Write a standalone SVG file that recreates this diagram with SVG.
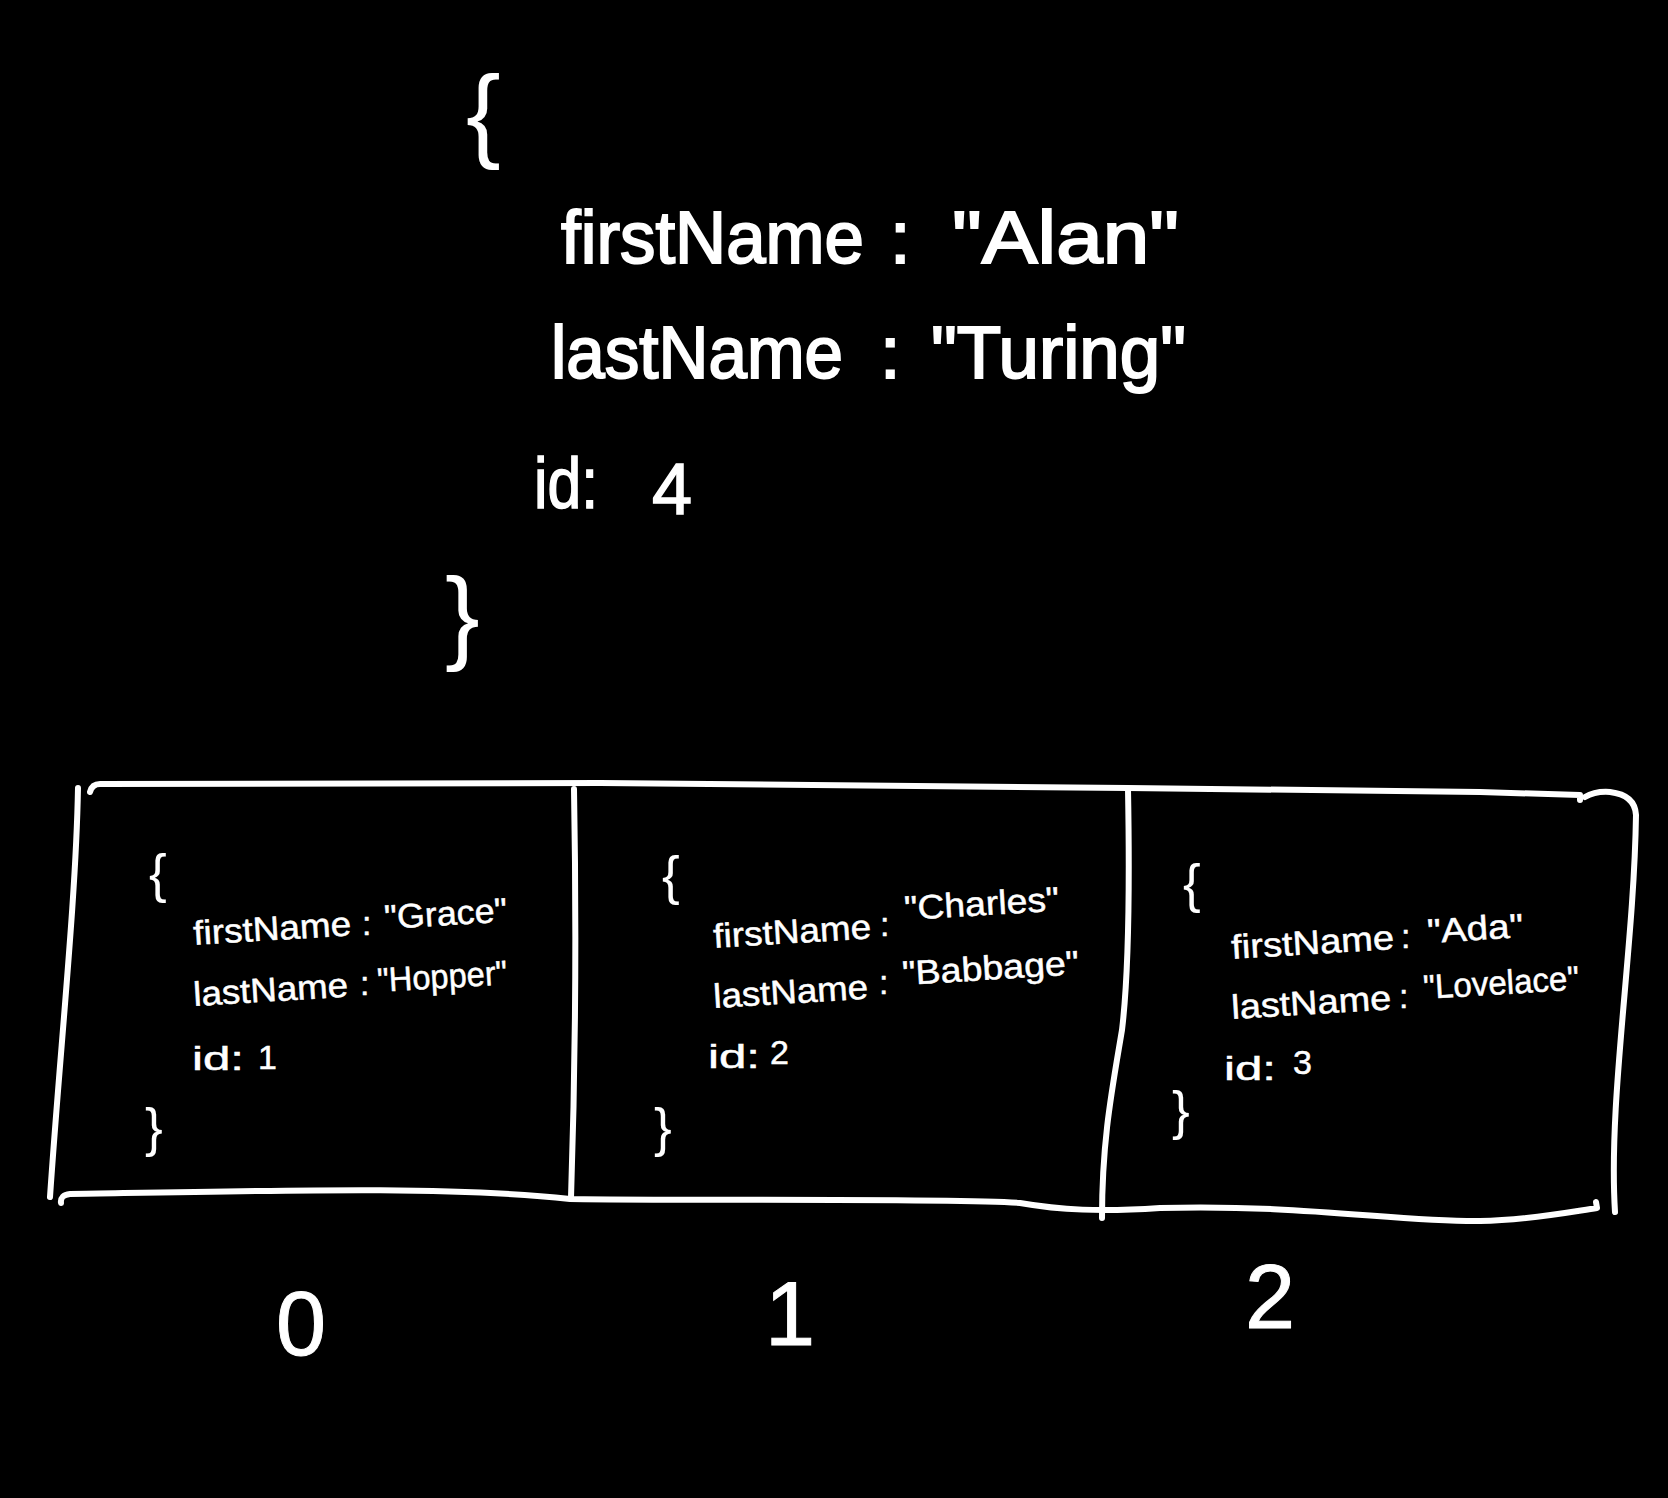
<svg xmlns="http://www.w3.org/2000/svg" width="1668" height="1498" viewBox="0 0 1668 1498">
<style>
text{fill:#fff;font-family:"Liberation Sans","Noto Sans",sans-serif}
.big{font-size:74px;stroke:#fff;stroke-width:2}
.mid{font-size:72px;stroke:#fff;stroke-width:1.5}
.brace{font-size:104px}
.sm{font-size:34px;stroke:#fff;stroke-width:0.5}
.sbrace{font-size:53px}
.idx{font-size:90px;text-anchor:middle;stroke:#fff;stroke-width:1}
.line{fill:none;stroke:#fff;stroke-width:6;stroke-linecap:round;stroke-linejoin:round}
</style>
<rect width="1668" height="1498" fill="#000"/>
<g id="object-top">
<text class="brace" x="466" y="148">{</text>
<text class="big" x="561" y="263" textLength="303" lengthAdjust="spacingAndGlyphs">firstName</text>
<text class="big" x="890" y="263">:</text>
<text class="big" x="952" y="263" textLength="227" lengthAdjust="spacingAndGlyphs">"Alan"</text>
<text class="big" x="551" y="378" textLength="292" lengthAdjust="spacingAndGlyphs">lastName</text>
<text class="big" x="880" y="378">:</text>
<text class="big" x="931" y="378" textLength="255" lengthAdjust="spacingAndGlyphs">"Turing"</text>
<text class="mid" x="534" y="508" textLength="64" lengthAdjust="spacingAndGlyphs">id:</text>
<text class="mid" x="652" y="514">4</text>
<text class="brace" x="445" y="650">}</text>
</g>
<g id="array-box">
<path class="line" d="M90 792 Q92 784 100 784 L600 783 L1128 788 L1480 792 L1580 795 L1580 800"/>
<path class="line" d="M1585 797 Q1595 791 1610 792 Q1635 795 1636 815 C1634 950 1608 1100 1615 1212"/>
<path class="line" d="M78 788 C76 900 60 1050 50 1197"/>
<path class="line" d="M61 1203 Q60 1195 70 1194 C300 1190 450 1186 570 1199 C700 1201 950 1198 1020 1203 C1060 1210 1100 1212 1160 1208 C1300 1204 1400 1222 1480 1221 C1530 1220 1570 1212 1597 1208 L1596 1202"/>
<path class="line" d="M574 789 C576 900 576 1050 571 1198"/>
<path class="line" d="M1128 789 C1130 900 1128 980 1122 1030 C1112 1090 1102 1140 1102 1218"/>
</g>
<g id="cell-0">
<text class="sbrace" x="149" y="892">{</text>
<text class="sm" x="194" y="945" textLength="158" lengthAdjust="spacingAndGlyphs" transform="rotate(-3.5 194 945)">firstName</text>
<text class="sm" x="362" y="935">:</text>
<text class="sm" x="385" y="929" textLength="123" lengthAdjust="spacingAndGlyphs" transform="rotate(-3.5 385 929)">"Grace"</text>
<text class="sm" x="194" y="1006" textLength="155" lengthAdjust="spacingAndGlyphs" transform="rotate(-3.5 194 1006)">lastName</text>
<text class="sm" x="360" y="995">:</text>
<text class="sm" x="378" y="992" textLength="130" lengthAdjust="spacingAndGlyphs" transform="rotate(-3.5 378 992)">"Hopper"</text>
<text class="sm" x="192" y="1070" textLength="52" lengthAdjust="spacingAndGlyphs">id:</text>
<text class="sm" x="258" y="1069">1</text>
<text class="sbrace" x="145" y="1146">}</text>
</g>
<g id="cell-1">
<text class="sbrace" x="662" y="894">{</text>
<text class="sm" x="714" y="948" textLength="158" lengthAdjust="spacingAndGlyphs" transform="rotate(-3.5 714 948)">firstName</text>
<text class="sm" x="880" y="936">:</text>
<text class="sm" x="905" y="920" textLength="155" lengthAdjust="spacingAndGlyphs" transform="rotate(-3.5 905 920)">"Charles"</text>
<text class="sm" x="714" y="1008" textLength="155" lengthAdjust="spacingAndGlyphs" transform="rotate(-3.5 714 1008)">lastName</text>
<text class="sm" x="879" y="994">:</text>
<text class="sm" x="903" y="985" textLength="177" lengthAdjust="spacingAndGlyphs" transform="rotate(-3.5 903 985)">"Babbage"</text>
<text class="sm" x="708" y="1068" textLength="52" lengthAdjust="spacingAndGlyphs">id:</text>
<text class="sm" x="770" y="1064">2</text>
<text class="sbrace" x="654" y="1146">}</text>
</g>
<g id="cell-2">
<text class="sbrace" x="1183" y="902">{</text>
<text class="sm" x="1232" y="959" textLength="163" lengthAdjust="spacingAndGlyphs" transform="rotate(-3.5 1232 959)">firstName</text>
<text class="sm" x="1401" y="948">:</text>
<text class="sm" x="1428" y="943" textLength="96" lengthAdjust="spacingAndGlyphs" transform="rotate(-3.5 1428 943)">"Ada"</text>
<text class="sm" x="1232" y="1019" textLength="160" lengthAdjust="spacingAndGlyphs" transform="rotate(-3.5 1232 1019)">lastName</text>
<text class="sm" x="1399" y="1008">:</text>
<text class="sm" x="1424" y="999" textLength="156" lengthAdjust="spacingAndGlyphs" transform="rotate(-3.5 1424 999)">"Lovelace"</text>
<text class="sm" x="1224" y="1080" textLength="52" lengthAdjust="spacingAndGlyphs">id:</text>
<text class="sm" x="1293" y="1074">3</text>
<text class="sbrace" x="1172" y="1129">}</text>
</g>
<g id="indices">
<text class="idx" x="301" y="1355">0</text>
<text class="idx" x="790" y="1345">1</text>
<text class="idx" x="1270" y="1328">2</text>
</g>
</svg>
